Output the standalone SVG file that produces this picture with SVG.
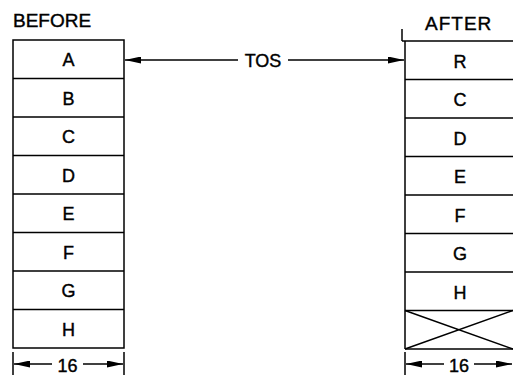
<svg xmlns="http://www.w3.org/2000/svg" width="513" height="375" viewBox="0 0 513 375">
<style>
.ln{stroke:#000;stroke-width:1.5;fill:none}
.t{font-family:"Liberation Sans",Arial,sans-serif;font-size:18px;fill:#000;stroke:#000;stroke-width:0.4;text-anchor:middle}
.h{font-family:"Liberation Sans",Arial,sans-serif;font-size:19px;fill:#000;stroke:#000;stroke-width:0.4}
</style>
<defs>
<marker id="ah" viewBox="0 0 16 7" refX="16" refY="3.5" markerWidth="16" markerHeight="7" markerUnits="userSpaceOnUse" orient="auto-start-reverse">
<path d="M0,0 L16,3.5 L0,7 Z" fill="#000"/>
</marker>
</defs>
<rect width="513" height="375" fill="#fff"/>
<text class="h" x="13" y="27">BEFORE</text>
<text class="h" x="425" y="30" letter-spacing="1">AFTER</text>
<g id="before">
<rect class="ln" x="13" y="40" width="111" height="308"/>
<path class="ln" d="M13,78.5H124M13,117H124M13,155.5H124M13,194H124M13,232.5H124M13,271H124M13,309.5H124"/>
<text class="t" x="68.5" y="66">A</text>
<text class="t" x="68.5" y="104.5">B</text>
<text class="t" x="68.5" y="143">C</text>
<text class="t" x="68.5" y="181.5">D</text>
<text class="t" x="68.5" y="220">E</text>
<text class="t" x="68.5" y="258.5">F</text>
<text class="t" x="68.5" y="297">G</text>
<text class="t" x="68.5" y="335.5">H</text>
</g>
<g id="after">
<path class="ln" d="M405,41V349M402,41H513M405,79.5H513M405,118H513M405,156.5H513M405,195H513M405,233.5H513M405,272H513M405,310.5H513M405,349H513"/>
<path class="ln" d="M402,29V41"/>
<path class="ln" stroke-width="1" d="M405,310.5L513,349M405,349L513,310.5"/>
<text class="t" x="460" y="67.5">R</text>
<text class="t" x="460" y="106">C</text>
<text class="t" x="460" y="144.5">D</text>
<text class="t" x="460" y="183">E</text>
<text class="t" x="460" y="221.5">F</text>
<text class="t" x="460" y="260">G</text>
<text class="t" x="460" y="298.5">H</text>
</g>
<g id="connectors">
<path class="ln" d="M238,60H125" marker-end="url(#ah)"/>
<path class="ln" d="M288,60H404" marker-end="url(#ah)"/>
<path class="ln" d="M13,352V375M124,352V375M405,352V375"/>
<path class="ln" d="M52,364H14" marker-end="url(#ah)"/>
<path class="ln" d="M83,364H123" marker-end="url(#ah)"/>
<path class="ln" d="M444,364H406" marker-end="url(#ah)"/>
<path class="ln" d="M474,364H512" marker-end="url(#ah)"/>
</g>
<text class="t" x="263" y="67" font-size="20">TOS</text>
<text class="t" x="67.5" y="372" font-size="20">16</text>
<text class="t" x="459" y="372" font-size="20">16</text>
</svg>
